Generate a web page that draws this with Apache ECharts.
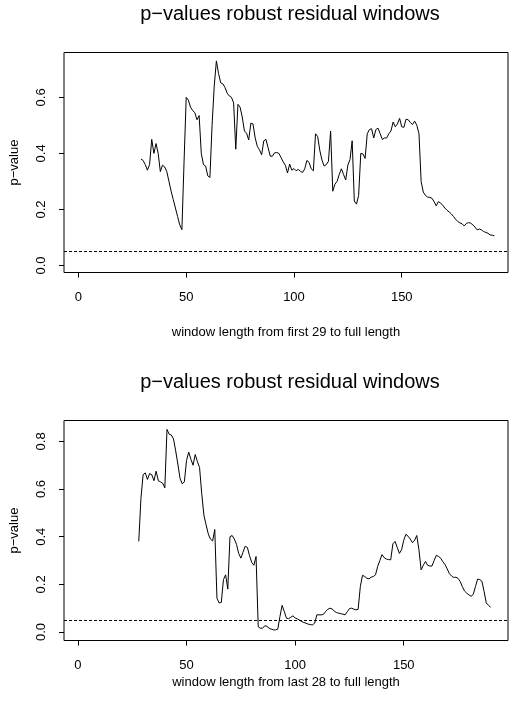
<!DOCTYPE html>
<html>
<head>
<meta charset="utf-8">
<style>
    html, body {
        margin: 0;
        padding: 0;
        background: #fff;
        overflow: hidden;
    }
</style>
</head>
<body>
<div id="chart" style="width:509px; height:705px;"></div>
<script src="https://cdn.jsdelivr.net/npm/echarts@6/dist/echarts.min.js"></script>
<script>
    // first panel: windows growing from the first 29 observations (x = 29..193)
    var firstStart = 29;
    var firstP = [
        0.38, 0.375, 0.36, 0.34, 0.36, 0.45, 0.40, 0.435, 0.40, 0.335,
        0.358, 0.352, 0.335, 0.30, 0.265, 0.235, 0.205, 0.175, 0.145, 0.128,
        0.37, 0.60, 0.59, 0.565, 0.553, 0.545, 0.52, 0.535, 0.40, 0.36,
        0.355, 0.32, 0.314, 0.50, 0.64, 0.73, 0.685, 0.652, 0.648, 0.635,
        0.615, 0.605, 0.60, 0.58, 0.415, 0.575, 0.565, 0.53, 0.48, 0.472,
        0.448, 0.508, 0.505, 0.455, 0.425, 0.413, 0.395, 0.445, 0.45, 0.42,
        0.39, 0.39, 0.402, 0.403, 0.40, 0.385, 0.37, 0.358, 0.33, 0.362,
        0.34, 0.346, 0.338, 0.343, 0.336, 0.332, 0.345, 0.375, 0.368, 0.345,
        0.338, 0.47, 0.46, 0.41, 0.376, 0.355, 0.36, 0.372, 0.48, 0.265,
        0.29, 0.30, 0.325, 0.345, 0.325, 0.305, 0.358, 0.378, 0.445, 0.23,
        0.219, 0.25, 0.40, 0.398, 0.382, 0.47, 0.485, 0.488, 0.455, 0.485,
        0.49, 0.47, 0.45, 0.455, 0.455, 0.47, 0.48, 0.512, 0.495, 0.505,
        0.525, 0.495, 0.493, 0.522, 0.52, 0.51, 0.503, 0.515, 0.50, 0.47,
        0.30, 0.262, 0.25, 0.244, 0.243, 0.24, 0.228, 0.213, 0.228, 0.223,
        0.215, 0.205, 0.197, 0.191, 0.184, 0.175, 0.165, 0.157, 0.152, 0.149,
        0.141, 0.15, 0.153, 0.151, 0.145, 0.137, 0.127, 0.13, 0.127, 0.121,
        0.118, 0.115, 0.109, 0.108, 0.106
    ];

    // second panel: windows growing from the last 28 observations (x = 28..190)
    var lastStart = 28;
    var lastP = [
        0.38, 0.56, 0.66, 0.668, 0.64, 0.665, 0.66, 0.635, 0.675, 0.635,
        0.63, 0.625, 0.605, 0.85, 0.83, 0.827, 0.81, 0.76, 0.705, 0.645,
        0.622, 0.63, 0.72, 0.755, 0.725, 0.70, 0.745, 0.715, 0.69, 0.58,
        0.49, 0.45, 0.412, 0.39, 0.382, 0.43, 0.142, 0.122, 0.124, 0.22,
        0.24, 0.18, 0.40, 0.405, 0.39, 0.368, 0.33, 0.31, 0.335, 0.36,
        0.355, 0.32, 0.292, 0.28, 0.317, 0.022, 0.016, 0.016, 0.026, 0.024,
        0.016, 0.012, 0.009, 0.009, 0.012, 0.065, 0.112, 0.086, 0.058, 0.056,
        0.062, 0.068, 0.059, 0.055, 0.05, 0.044, 0.04, 0.037, 0.033, 0.031,
        0.03, 0.037, 0.072, 0.072, 0.072, 0.074, 0.086, 0.095, 0.1, 0.097,
        0.088, 0.082, 0.079, 0.077, 0.075, 0.072, 0.085, 0.098, 0.1, 0.096,
        0.093, 0.095, 0.19, 0.238, 0.233, 0.226, 0.223, 0.23, 0.233, 0.24,
        0.275, 0.30, 0.325, 0.312, 0.306, 0.304, 0.303, 0.37, 0.38, 0.355,
        0.33, 0.345, 0.385, 0.41, 0.402, 0.39, 0.375, 0.385, 0.405, 0.345,
        0.261, 0.28, 0.296, 0.28, 0.277, 0.277, 0.30, 0.322, 0.317, 0.31,
        0.295, 0.283, 0.265, 0.245, 0.235, 0.229, 0.23, 0.225, 0.212, 0.19,
        0.172, 0.163, 0.156, 0.15, 0.158, 0.19, 0.222, 0.22, 0.213, 0.17,
        0.122, 0.112, 0.104
    ];

    var cutoff = 0.05;
    var xTicks = [0, 50, 100, 150];
    var firstYTicks = [0, 0.2, 0.4, 0.6];
    var lastYTicks = [0, 0.2, 0.4, 0.6, 0.8];
    var titleText = 'p\u2212values robust residual windows';
    var yName = 'p\u2212value';
    var firstXName = 'window length from first 29 to full length';
    var lastXName = 'window length from last 28 to full length';

    var font = '"Liberation Sans", Arial, Helvetica, sans-serif';

    function toPairs(start, values) {
        return values.map(function (v, i) {
            return [start + i, v];
        });
    }

    function xAxisFor(idx, min, max, name, gap) {
        return {
            type: 'value', gridIndex: idx, min: min, max: max, position: 'bottom',
            name: name, nameLocation: 'middle', nameGap: gap,
            nameTextStyle: {fontSize: 13, color: '#000', fontFamily: font},
            axisLine: {show: false, onZero: false},
            axisTick: {show: true, length: 5, customValues: xTicks, lineStyle: {color: '#000', width: 1}},
            axisLabel: {
                customValues: xTicks, color: '#000', fontSize: 13, margin: 18, fontFamily: font,
                formatter: function (v) { return String(v); }
            },
            splitLine: {show: false}
        };
    }

    function yAxisFor(idx, min, max, ticks) {
        return {
            type: 'value', gridIndex: idx, min: min, max: max, position: 'left',
            name: yName, nameLocation: 'middle', nameGap: 43,
            nameTextStyle: {fontSize: 13, color: '#000', fontFamily: font},
            axisLine: {show: false, onZero: false},
            axisTick: {show: true, length: 5, customValues: ticks, lineStyle: {color: '#000', width: 1}},
            axisLabel: {
                customValues: ticks, rotate: 90, color: '#000', fontSize: 13, margin: 16, fontFamily: font,
                formatter: function (v) { return v.toFixed(1); }
            },
            splitLine: {show: false}
        };
    }

    function seriesFor(idx, start, values) {
        return {
            type: 'line', xAxisIndex: idx, yAxisIndex: idx,
            data: toPairs(start, values),
            showSymbol: false, symbol: 'none',
            lineStyle: {color: '#000', width: 1},
            markLine: {
                silent: true, symbol: 'none', label: {show: false},
                lineStyle: {color: '#000', width: 1, type: [3, 2]},
                data: [{yAxis: cutoff}]
            }
        };
    }

    var chart = echarts.init(document.getElementById('chart'), null, {renderer: 'canvas'});
    chart.setOption({
        animation: false,
        backgroundColor: '#fff',
        title: [
            {text: titleText, left: 285, textAlign: 'center', top: -1,
                textStyle: {fontSize: 20, fontWeight: 'normal', color: '#000', fontFamily: font}},
            {text: titleText, left: 285, textAlign: 'center', top: 367,
                textStyle: {fontSize: 20, fontWeight: 'normal', color: '#000', fontFamily: font}}
        ],
        grid: [
            {left: 62, top: 52.5, width: 446, height: 220, show: true, borderColor: '#000', borderWidth: 1, backgroundColor: 'transparent'},
            {left: 62, top: 420.5, width: 446, height: 220, show: true, borderColor: '#000', borderWidth: 1, backgroundColor: 'transparent'}
        ],
        xAxis: [
            xAxisFor(0, -6.7, 199.3, firstXName, 53),
            xAxisFor(1, -6.42, 198.0, lastXName, 35)
        ],
        yAxis: [
            yAxisFor(0, -0.025, 0.76, firstYTicks),
            yAxisFor(1, -0.0356, 0.8876, lastYTicks)
        ],
        series: [
            seriesFor(0, firstStart, firstP),
            seriesFor(1, lastStart, lastP)
        ]
    });
</script>
</body>
</html>
